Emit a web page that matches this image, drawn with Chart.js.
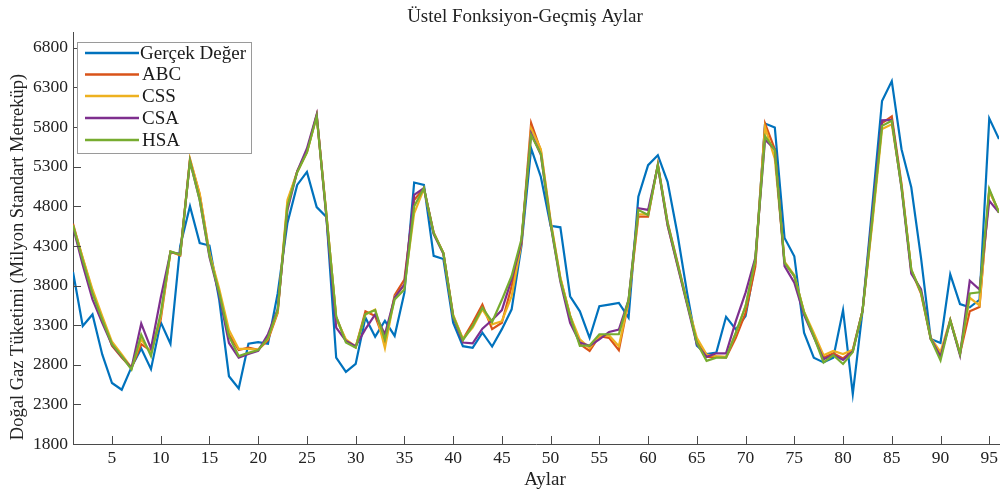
<!DOCTYPE html>
<html>
<head>
<meta charset="utf-8">
<script src="https://cdn.jsdelivr.net/npm/chart.js@4/dist/chart.umd.min.js"></script>
<style>
  html, body { margin: 0; padding: 0; background: #ffffff; }
  #wrap { width: 1003px; height: 498px; }
</style>
</head>
<body>
<div id="wrap"><canvas id="c" width="1003" height="498"></canvas></div>
<script>
// Months 1..96
const months = [
  1,2,3,4,5,6,7,8,9,10,11,12,13,14,15,16,17,18,19,20,21,22,23,24,
  25,26,27,28,29,30,31,32,33,34,35,36,37,38,39,40,41,42,43,44,45,46,47,48,
  49,50,51,52,53,54,55,56,57,58,59,60,61,62,63,64,65,66,67,68,69,70,71,72,
  73,74,75,76,77,78,79,80,81,82,83,84,85,86,87,88,89,90,91,92,93,94,95,96
];
const xTickValues = [5,10,15,20,25,30,35,40,45,50,55,60,65,70,75,80,85,90,95];
const yTickValues = [1800,2300,2800,3300,3800,4300,4800,5300,5800,6300,6800];

// Monthly consumption (million standard m3)
const gercekDeger = [
  3970,3290,3435,2930,2570,2485,2770,3005,2745,3335,3065,4300,
  4800,4335,4305,3620,2655,2500,3065,3085,3065,3700,4590,5070,
  5235,4790,4665,2890,2710,2810,3395,3155,3355,3165,3710,5100,
  5070,4175,4135,3330,3035,3015,3205,3030,3250,3500,4295,5530,
  5170,4555,4535,3665,3475,3140,3540,3560,3580,3395,4920,5320,
  5445,5110,4460,3710,3040,2935,2955,3405,3245,3415,4085,5845,
  5795,4400,4170,3205,2890,2830,2890,3490,2430,3480,4800,6130,
  6380,5520,5040,4150,3125,3075,3940,3565,3525,3620,5910,5650
];
const abc = [
  4580,4140,3720,3390,3040,2890,2760,3060,2975,3370,4230,4180,
  5390,4950,4200,3720,3180,2985,3015,2990,3110,3455,4840,5240,
  5490,5950,4690,3400,3100,3020,3475,3415,3080,3680,3875,4880,
  5030,4470,4210,3420,3120,3330,3560,3250,3330,3790,4330,5850,
  5500,4600,3890,3420,3060,2975,3160,3140,2985,3600,4670,4670,
  5330,4600,4100,3590,3100,2900,2900,2890,3140,3455,4040,5845,
  5520,4090,3920,3460,3170,2890,2945,2880,2980,3480,4620,5850,
  5935,5080,3990,3700,3125,2915,3360,2940,3475,3530,5000,4720
];
const css = [
  4560,4150,3750,3415,3090,2930,2765,3120,2950,3410,4220,4190,
  5400,4960,4210,3760,3240,3000,3000,2990,3130,3470,4880,5230,
  5480,5940,4700,3380,3120,3030,3435,3495,3010,3660,3800,4710,
  5020,4460,4210,3430,3125,3270,3500,3310,3350,3665,4330,5780,
  5520,4620,3900,3420,3120,3010,3165,3170,3035,3610,4700,4700,
  5320,4560,4070,3580,3140,2930,2910,2900,3200,3540,4120,5800,
  5400,4100,3930,3470,3200,2920,2975,2935,2990,3480,4580,5775,
  5835,5060,4000,3720,3140,2960,3370,2945,3645,3550,5000,4730
];
const csa = [
  4540,4060,3625,3330,3050,2900,2760,3320,3005,3645,4220,4200,
  5370,4880,4160,3680,3075,2890,2935,2975,3185,3500,4755,5240,
  5530,5960,4650,3270,3100,3035,3250,3435,3185,3650,3815,4945,
  5030,4450,4200,3400,3080,3070,3255,3365,3490,3880,4340,5720,
  5450,4570,3850,3330,3080,3040,3120,3215,3245,3620,4775,4755,
  5310,4560,4060,3560,3060,2900,2945,2945,3350,3710,4150,5640,
  5520,4045,3835,3430,3150,2870,2925,2860,2970,3480,4700,5885,
  5890,5030,3950,3755,3130,2900,3360,2920,3860,3750,4870,4720
];
const hsa = [
  4560,4120,3700,3370,3060,2910,2740,3180,2910,3450,4230,4190,
  5370,4880,4180,3710,3160,2910,2950,2985,3140,3490,4800,5230,
  5480,5935,4680,3410,3080,3015,3440,3490,3120,3625,3750,4800,
  5030,4460,4210,3410,3110,3290,3520,3340,3620,3920,4380,5700,
  5460,4580,3870,3410,3040,3045,3185,3185,3185,3620,4755,4690,
  5320,4590,4085,3580,3080,2850,2890,2890,3205,3540,4130,5685,
  5510,4085,3920,3460,3160,2830,2920,2810,2960,3480,4640,5815,
  5880,5040,4000,3715,3125,2855,3360,2935,3700,3715,5020,4720
];

const seriesNames = ['Gerçek Değer', 'ABC', 'CSS', 'CSA', 'HSA'];
const seriesColors = ['#0072BD', '#D95319', '#EDB120', '#7E2F8E', '#77AC30'];
const seriesValues = [gercekDeger, abc, css, csa, hsa];

const chartTitle = 'Üstel Fonksiyon-Geçmiş Aylar';
const xTitle = 'Aylar';
const yTitle = 'Doğal Gaz Tüketimi (Milyon Standart Metreküp)';

const SERIF = '"Liberation Serif", "DejaVu Serif", serif';
const AXIS_COLOR = '#4a4a4a';

function toPoints(vals) {
  return vals.map((v, i) => ({ x: months[i], y: v }));
}

// Inward tick marks, axis titles, chart title and boxed legend
const decorations = {
  id: 'decorations',
  afterDraw(chart) {
    const ctx = chart.ctx;
    const xs = chart.scales.x, ys = chart.scales.y;
    const area = chart.chartArea;
    ctx.save();
    ctx.strokeStyle = AXIS_COLOR;
    ctx.lineWidth = 1;
    ctx.beginPath();
    xTickValues.forEach(v => {
      const px = Math.round(xs.getPixelForValue(v)) + 0.5;
      ctx.moveTo(px, area.bottom);
      ctx.lineTo(px, area.bottom - 8);
    });
    yTickValues.forEach(v => {
      const py = Math.round(ys.getPixelForValue(v)) + 0.5;
      ctx.moveTo(area.left, py);
      ctx.lineTo(area.left + 8, py);
    });
    ctx.stroke();

    ctx.fillStyle = '#222222';
    // chart title
    ctx.font = '19px ' + SERIF;
    ctx.textAlign = 'center';
    ctx.textBaseline = 'middle';
    ctx.fillText(chartTitle, 525, 17);
    // x title
    ctx.fillText(xTitle, 545, 480);
    // y title
    ctx.save();
    ctx.translate(18, 257);
    ctx.rotate(-Math.PI / 2);
    ctx.font = '18.5px ' + SERIF;
    ctx.fillText(yTitle, 0, 0);
    ctx.restore();

    // legend box
    const bx = 77.5, by = 42.5, bw = 174, bh = 111;
    ctx.fillStyle = '#ffffff';
    ctx.fillRect(bx, by, bw, bh);
    ctx.strokeStyle = '#9a9a9a';
    ctx.strokeRect(bx, by, bw, bh);
    const rows = [53, 74.5, 96, 118, 140];
    ctx.font = '19px ' + SERIF;
    ctx.textAlign = 'left';
    ctx.textBaseline = 'middle';
    chart.data.datasets.forEach((ds, i) => {
      ctx.strokeStyle = ds.borderColor;
      ctx.lineWidth = 2.5;
      ctx.beginPath();
      ctx.moveTo(85, rows[i]);
      ctx.lineTo(139, rows[i]);
      ctx.stroke();
      ctx.fillStyle = '#1a1a1a';
      ctx.fillText(ds.label, i === 0 ? 140 : 142, rows[i] + 1);
    });
    ctx.restore();
  }
};

new Chart(document.getElementById('c'), {
  type: 'line',
  data: {
    datasets: seriesNames.map((name, i) => ({
      label: name,
      data: toPoints(seriesValues[i]),
      borderColor: seriesColors[i],
      backgroundColor: seriesColors[i],
      borderWidth: 2.2,
      pointRadius: 0,
      tension: 0,
      fill: false,
      order: 5 - i
    }))
  },
  options: {
    responsive: false,
    animation: false,
    devicePixelRatio: 1,
    layout: { padding: { left: 0, right: 4, top: 32, bottom: 0 } },
    plugins: {
      legend: { display: false },
      title: { display: false },
      tooltip: { enabled: false }
    },
    scales: {
      x: {
        type: 'linear',
        min: 1,
        max: 96,
        afterBuildTicks: s => { s.ticks = xTickValues.map(v => ({ value: v })); },
        afterFit: s => { s.height = 54; },
        grid: { display: true, drawOnChartArea: false, drawTicks: false },
        border: { display: true, color: AXIS_COLOR, width: 1 },
        ticks: {
          font: { family: SERIF, size: 17.5 },
          color: '#222222',
          padding: 4,
          maxRotation: 0,
          autoSkip: false,
          callback: v => String(v)
        }
      },
      y: {
        type: 'linear',
        min: 1800,
        max: 7000,
        afterBuildTicks: s => { s.ticks = yTickValues.map(v => ({ value: v })); },
        afterFit: s => { s.width = 73; },
        grid: { display: true, drawOnChartArea: false, drawTicks: false },
        border: { display: true, color: AXIS_COLOR, width: 1 },
        ticks: {
          font: { family: SERIF, size: 17.5 },
          color: '#222222',
          padding: 5,
          autoSkip: false,
          callback: v => String(v)
        }
      }
    }
  },
  plugins: [decorations]
});
</script>
</body>
</html>
